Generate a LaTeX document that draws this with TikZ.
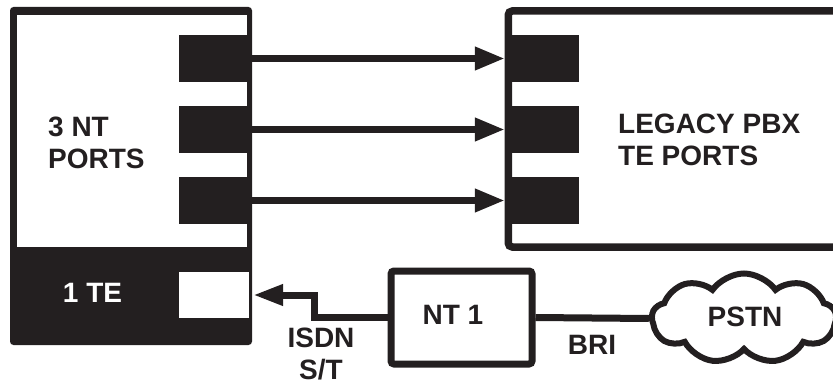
\documentclass[tikz,border=0pt]{standalone}
\usepackage{fontspec}
\setmainfont{Liberation Sans}
\usetikzlibrary{arrows.meta,shapes.symbols}
\definecolor{ink}{HTML}{231F20}
\tikzset{
  x=1pt, y=-1pt,
  lbl/.style={inner sep=0pt, text=ink, font=\bfseries\fontsize{28}{32}\selectfont},
  portblk/.style={fill=ink, inner sep=0pt, minimum height=47pt},
  wire/.style={draw=ink, line width=7pt},
  arr/.style={wire, -{Triangle[length=30pt,width=22pt]}},
  box/.style={draw=ink, line width=7.5pt, rounded corners=4pt, inner sep=0pt},
}
\begin{document}
\begin{tikzpicture}
\clip (0,0) rectangle (833,385);
% left unit
\node[fill=ink, rounded corners=3.5pt, inner sep=0pt, minimum width=242pt, minimum height=338pt] (unit) at (131,176) {};
\node[fill=white, inner sep=0pt, minimum width=230pt, minimum height=232pt] (unitin) at (132,131) {};
\node[portblk, minimum width=68pt] (lp1) at (213,58.5) {};
\node[portblk, minimum width=68pt] (lp2) at (213,129.5) {};
\node[portblk, minimum width=68pt] (lp3) at (213,200.5) {};
\node[fill=white, inner sep=0pt, minimum width=70pt, minimum height=46pt] (teport) at (214,295) {};
\node[lbl, anchor=west, align=left] (ntlabel) at (48,143) {3 NT\\PORTS};
\node[lbl, text=white] (telabel) at (92.5,293) {1 TE};
% legacy PBX
\node[box, minimum width=341.5pt, minimum height=236pt] (pbx) at (679,129) {};
\node[portblk, minimum width=74pt] (rp1) at (542,58.5) {};
\node[portblk, minimum width=74pt] (rp2) at (542,129.5) {};
\node[portblk, minimum width=74pt] (rp3) at (542,200.5) {};
\node[lbl, anchor=west, align=left] (pbxlabel) at (618,139.5) {LEGACY PBX\\TE PORTS};
% arrows
\draw[arr] (lp1.east) -- (rp1.west);
\draw[arr] (lp2.east) -- (rp2.west);
\draw[arr] (lp3.east) -- (rp3.west);
% NT1
\node[box, line width=7pt, rounded corners=3pt, minimum width=141pt, minimum height=93pt] (nt1) at (461.5,317.5) {};
\node[lbl] (nt1label) at (453,315) {NT 1};
% cloud
\node[cloud, draw=ink, line width=6pt, cloud puffs=9, cloud puff arc=110, aspect=2, inner sep=0pt, minimum width=184pt, minimum height=90pt] (pstn) at (744,318.5) {};
\node[lbl] (pstnlabel) at (745,317) {PSTN};
% connectors
\draw[wire, -{Triangle[length=30pt,width=20pt]}] (nt1.west) -- ++(-73,0) |- ([xshift=4pt]teport.east);
\draw[wire] (nt1.east) -- (pstn.west);
\node[lbl, align=center] (isdnlabel) at (321,354) {ISDN\\S/T};
\node[lbl] (brilabel) at (592,345) {BRI};
\end{tikzpicture}
\end{document}
